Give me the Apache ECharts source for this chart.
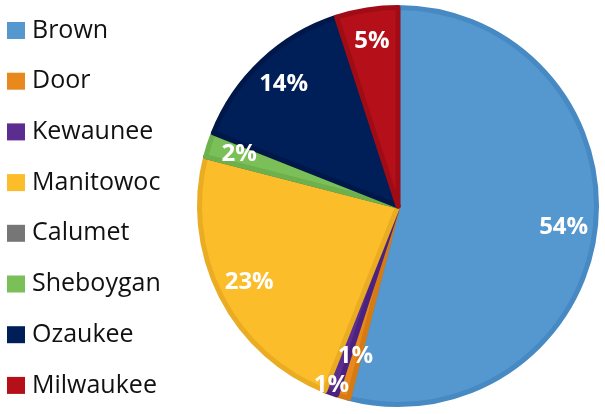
<!DOCTYPE html>
<html>
<head>
<meta charset="utf-8">
<script src="https://cdn.jsdelivr.net/npm/echarts@6/dist/echarts.min.js"></script>
<style>
    html, body { margin: 0; padding: 0; background: #fff; }
    #my_chart { width: 605px; height: 414px; }
</style>
</head>
<body>
<div id="my_chart"></div>
<script>
// counties and their share of the total (percent)
var counties = ['Brown', 'Door', 'Kewaunee', 'Manitowoc', 'Calumet', 'Sheboygan', 'Ozaukee', 'Milwaukee'];
var shares = [54, 1, 1, 23, 0, 2, 14, 5];
var fills = ['#5597CF', '#E8891E', '#5B2D90', '#FBBD29', '#767676', '#7BBF58', '#001E58', '#B51019'];
var borders = ['#4689C3', '#D67A14', '#4C2280', '#E9AC22', '#666666', '#6CB14C', '#00174A', '#A00C15'];

var FONT = 'Open Sans';

var sliceData = counties.map(function (name, i) {
    return {
        name: name,
        value: shares[i],
        itemStyle: { color: fills[i], borderColor: borders[i] }
    };
});

// the two 1% labels are nudged apart, like in the original
var labelData = counties.map(function (name, i) {
    var item = { name: name, value: shares[i] };
    if (shares[i] === 0) {
        item.label = { show: false };
    }
    if (name === 'Door') {
        item.label = { offset: [4, -10] };
    }
    if (name === 'Kewaunee') {
        item.label = { offset: [-10, 22] };
    }
    return item;
});

var myChart = echarts.init(document.getElementById('my_chart'));

var option = {
    animation: false,
    backgroundColor: '#fff',
    legend: {
        orient: 'vertical',
        left: 2,
        top: 13,
        data: counties,
        icon: 'rect',
        itemWidth: 18,
        itemHeight: 17,
        itemGap: 25.7,
        itemStyle: { borderWidth: 0 },
        textStyle: {
            fontFamily: FONT,
            fontSize: 25,
            lineHeight: 24,
            color: '#111',
            padding: [0, 0, 0, 2]
        }
    },
    series: [
        {
            type: 'pie',
            center: [398, 206],
            radius: [0, 198.5],
            startAngle: 90,
            clockwise: true,
            silent: true,
            label: { show: false },
            labelLine: { show: false },
            itemStyle: { borderWidth: 5 },
            data: sliceData
        },
        {
            // transparent ring, only carries the percentage labels
            type: 'pie',
            center: [398, 206],
            radius: [124, 204],
            startAngle: 90,
            clockwise: true,
            silent: true,
            legendHoverLink: false,
            itemStyle: { color: 'rgba(0,0,0,0)' },
            labelLine: { show: false },
            label: {
                show: true,
                position: 'inside',
                formatter: '{d}%',
                fontFamily: FONT,
                fontWeight: 'bold',
                fontSize: 24,
                color: '#fff'
            },
            data: labelData
        }
    ]
};
myChart.setOption(option);
</script>
</body>
</html>
